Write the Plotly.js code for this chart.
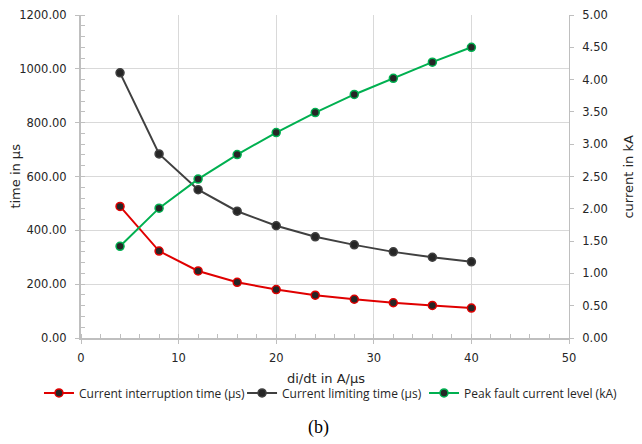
<!DOCTYPE html>
<html>
<head>
<meta charset="utf-8">
<script src="https://cdn.plot.ly/plotly-3.0.1.min.js"></script>
<style>html,body{margin:0;padding:0;background:#fff;}#chart{width:642px;height:444px;}</style>
</head>
<body>
<div id="chart"></div>
<script>
const didt = [4, 8, 12, 16, 20, 24, 28, 32, 36, 40];
const interruptionTime = [489, 323, 249, 207, 180, 159, 144, 131, 121, 111];
const limitingTime = [985, 684, 551, 471, 417, 376, 346, 320, 300, 283];
const peakCurrent = [1.42, 2.01, 2.46, 2.84, 3.18, 3.49, 3.77, 4.02, 4.27, 4.50];
const seriesNames = ['Current interruption time (µs)', 'Current limiting time (µs)', 'Peak fault current level (kA)'];

const font = 'DejaVu Sans, sans-serif';
const textColor = '#262626';
const markerFill = '#262626';

function trace(y, name, color, axis, legend) {
  return {
    x: didt, y: y, name: name, type: 'scatter', mode: 'lines+markers', yaxis: axis, legend: legend,
    line: {color: color, width: 2},
    marker: {size: 8, color: markerFill, line: {color: color, width: 1.5}}
  };
}

const data = [
  trace(interruptionTime, seriesNames[0], '#e00000', 'y', 'legend'),
  trace(limitingTime, seriesNames[1], '#404040', 'y', 'legend2'),
  trace(peakCurrent, seriesNames[2], '#00b050', 'y2', 'legend3')
];

function legendAt(x) {
  return {orientation: 'h', x: x, xanchor: 'left', y: -0.170, yanchor: 'middle',
          bgcolor: 'rgba(0,0,0,0)', borderwidth: 0,
          font: {family: 'Open Sans, sans-serif', size: 12, color: textColor}};
}

const layout = {
  width: 642, height: 444,
  margin: {l: 81, r: 73, t: 15, b: 106},
  paper_bgcolor: '#fff', plot_bgcolor: '#fff',
  font: {family: font, size: 12, color: textColor},
  showlegend: true,
  legend: legendAt(-0.0861),
  legend2: legendAt(0.3300),
  legend3: legendAt(0.7029),
  xaxis: {
    range: [0, 50], dtick: 10, tick0: 0,
    showgrid: true, gridcolor: '#d9d9d9', gridwidth: 1,
    showline: true, linecolor: '#bfbfbf', linewidth: 2,
    ticks: 'outside', ticklen: 4, tickcolor: '#bfbfbf', ticklabelstandoff: 4,
    minor: {dtick: 2, ticks: 'inside', ticklen: 4, tickcolor: '#bfbfbf', showgrid: false},
    zeroline: false,
    tickfont: {size: 11.5, color: textColor}
  },
  yaxis: {
    range: [0, 1200], dtick: 200, tickformat: '.2f',
    showgrid: true, gridcolor: '#d9d9d9', gridwidth: 1,
    showline: true, linecolor: '#bfbfbf', linewidth: 2,
    ticks: 'outside', ticklen: 4, tickcolor: '#bfbfbf', ticklabelstandoff: 6,
    minor: {dtick: 40, ticks: 'inside', ticklen: 4, tickcolor: '#bfbfbf', showgrid: false},
    zeroline: false,
    tickfont: {size: 11.5, color: textColor}
  },
  yaxis2: {
    range: [0, 5], dtick: 0.5, tickformat: '.2f', overlaying: 'y', side: 'right',
    showgrid: false,
    showline: true, linecolor: '#bfbfbf', linewidth: 1,
    ticks: 'outside', ticklen: 4, tickcolor: '#bfbfbf', ticklabelstandoff: 6,
    zeroline: false,
    tickfont: {size: 11.5, color: textColor}
  },
  annotations: [{
    text: 'di/dt in A/µs', xref: 'paper', yref: 'paper', x: 0.502, y: -0.124, xanchor: 'center', yanchor: 'middle',
    showarrow: false, font: {size: 13, color: textColor}
  }, {
    text: 'time in µs', xref: 'paper', yref: 'paper', x: -0.135, y: 0.5, xanchor: 'center', yanchor: 'middle',
    textangle: -90, showarrow: false, font: {size: 13, color: textColor}
  }, {
    text: 'current in kA', xref: 'paper', yref: 'paper', x: 1.121, y: 0.5, xanchor: 'center', yanchor: 'middle',
    textangle: -90, showarrow: false, font: {size: 13, color: textColor}
  }, {
    text: '(b)', xref: 'paper', yref: 'paper', x: 0.487, y: -0.277, xanchor: 'center', yanchor: 'middle',
    showarrow: false, font: {family: 'Liberation Serif, serif', size: 18, color: '#000'}
  }]
};

Plotly.newPlot('chart', data, layout, {displayModeBar: false, staticPlot: true});
</script>
</body>
</html>
